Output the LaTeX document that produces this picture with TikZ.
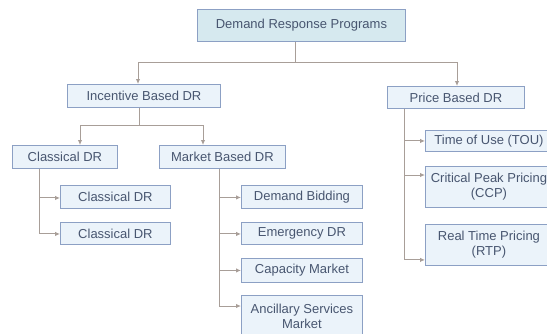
\documentclass[tikz,border=0pt]{standalone}
\usepackage{fontspec}
\setmainfont{Liberation Sans}
\usetikzlibrary{arrows.meta}

\definecolor{boxfill}{RGB}{235,243,250}
\definecolor{topfill}{RGB}{214,233,239}
\definecolor{boxedge}{RGB}{140,160,196}
\definecolor{txt}{RGB}{72,86,112}
\definecolor{wire}{RGB}{168,158,152}

\tikzset{
  drbox/.style={draw=boxedge, fill=boxfill, line width=0.9pt, inner sep=0pt,
    anchor=north west, align=center, text=txt,
    font=\fontsize{13}{16}\selectfont},
  headbox/.style={drbox, fill=topfill},
  wireline/.style={draw=wire, line width=1pt},
  wirearrow/.style={wireline, -{Latex[length=5pt,width=4.5pt]}},
}

\begin{document}
\begin{tikzpicture}[x=1pt,y=-1pt]
\useasboundingbox (0,0) rectangle (547,333);
\fill[white] (0,0) rectangle (547,333);

% boxes (placed by their upper-left corners)
\node[headbox, minimum width=208pt, minimum height=32pt] (top) at (197,9) {Demand Response Programs};

\node[drbox, minimum width=153pt, minimum height=23pt] (inc) at (67,84) {Incentive Based DR};
\node[drbox, minimum width=137pt, minimum height=22pt] (price) at (387,86) {Price Based DR};

\node[drbox, minimum width=105pt, minimum height=23pt] (cls) at (12,145) {Classical DR};
\node[drbox, minimum width=126pt, minimum height=23pt] (mkt) at (159,145) {Market Based DR};

\node[drbox, minimum width=110pt, minimum height=23pt] (c1) at (60,185) {Classical DR};
\node[drbox, minimum width=110pt, minimum height=22pt] (c2) at (60,222) {Classical DR};

\node[drbox, minimum width=121pt, minimum height=23pt] (bid) at (241,185) {Demand Bidding};
\node[drbox, minimum width=121pt, minimum height=22pt] (emg) at (241,222) {Emergency DR};
\node[drbox, minimum width=121pt, minimum height=24pt] (cap) at (241,258) {Capacity Market};
\node[drbox, minimum width=121pt, minimum height=42pt] (anc) at (241,295) {Ancillary Services\\[-1pt]Market};

\node[drbox, minimum width=127pt, minimum height=21pt] (tou) at (425,130) {Time of Use (TOU)};
\node[drbox, minimum width=127pt, minimum height=41pt] (ccp) at (425,166) {Critical Peak Pricing\\[-1pt](CCP)};
\node[drbox, minimum width=127pt, minimum height=41pt] (rtp) at (425,224) {Real Time Pricing\\[-1pt](RTP)};

% junction points of the connector tree
\coordinate (j0) at (295,62);
\coordinate (jl) at (138,62);
\coordinate (jr) at (457,62);
\coordinate (k0) at (139,125);
\coordinate (kl) at (80,125);
\coordinate (kr) at (203,125);
\coordinate (vc) at (39,0);
\coordinate (vm) at (219,0);
\coordinate (vp) at (404,0);

% first level
\draw[wireline] (top.south -| j0) -- (j0);
\draw[wireline] (jl) -- (jr);
\draw[wirearrow] (jl) -- (inc.north -| jl);
\draw[wirearrow] (jr) -- (price.north -| jr);

% incentive based branch
\draw[wireline] (inc.south -| k0) -- (k0);
\draw[wireline] (kl) -- (kr);
\draw[wirearrow] (kl) -- (cls.north -| kl);
\draw[wirearrow] (kr) -- (mkt.north -| kr);

% classical DR children
\draw[wirearrow] (cls.south -| vc) |- ([yshift=-1pt]c1.west);
\draw[wirearrow] (cls.south -| vc) |- ([yshift=-0.5pt]c2.west);

% market based DR children
\draw[wirearrow] (mkt.south -| vm) |- ([yshift=-0.5pt]bid.west);
\draw[wirearrow] (mkt.south -| vm) |- ([yshift=-0.5pt]emg.west);
\draw[wirearrow] (mkt.south -| vm) |- (cap.west);
\draw[wirearrow] (mkt.south -| vm) |- ([yshift=-11pt]anc.north west);

% price based DR children
\draw[wirearrow] (price.south -| vp) |- (tou.west);
\draw[wirearrow] (price.south -| vp) |- ([yshift=-9pt]ccp.north west);
\draw[wirearrow] (price.south -| vp) |- ([yshift=6pt]rtp.south west);
\end{tikzpicture}
\end{document}
